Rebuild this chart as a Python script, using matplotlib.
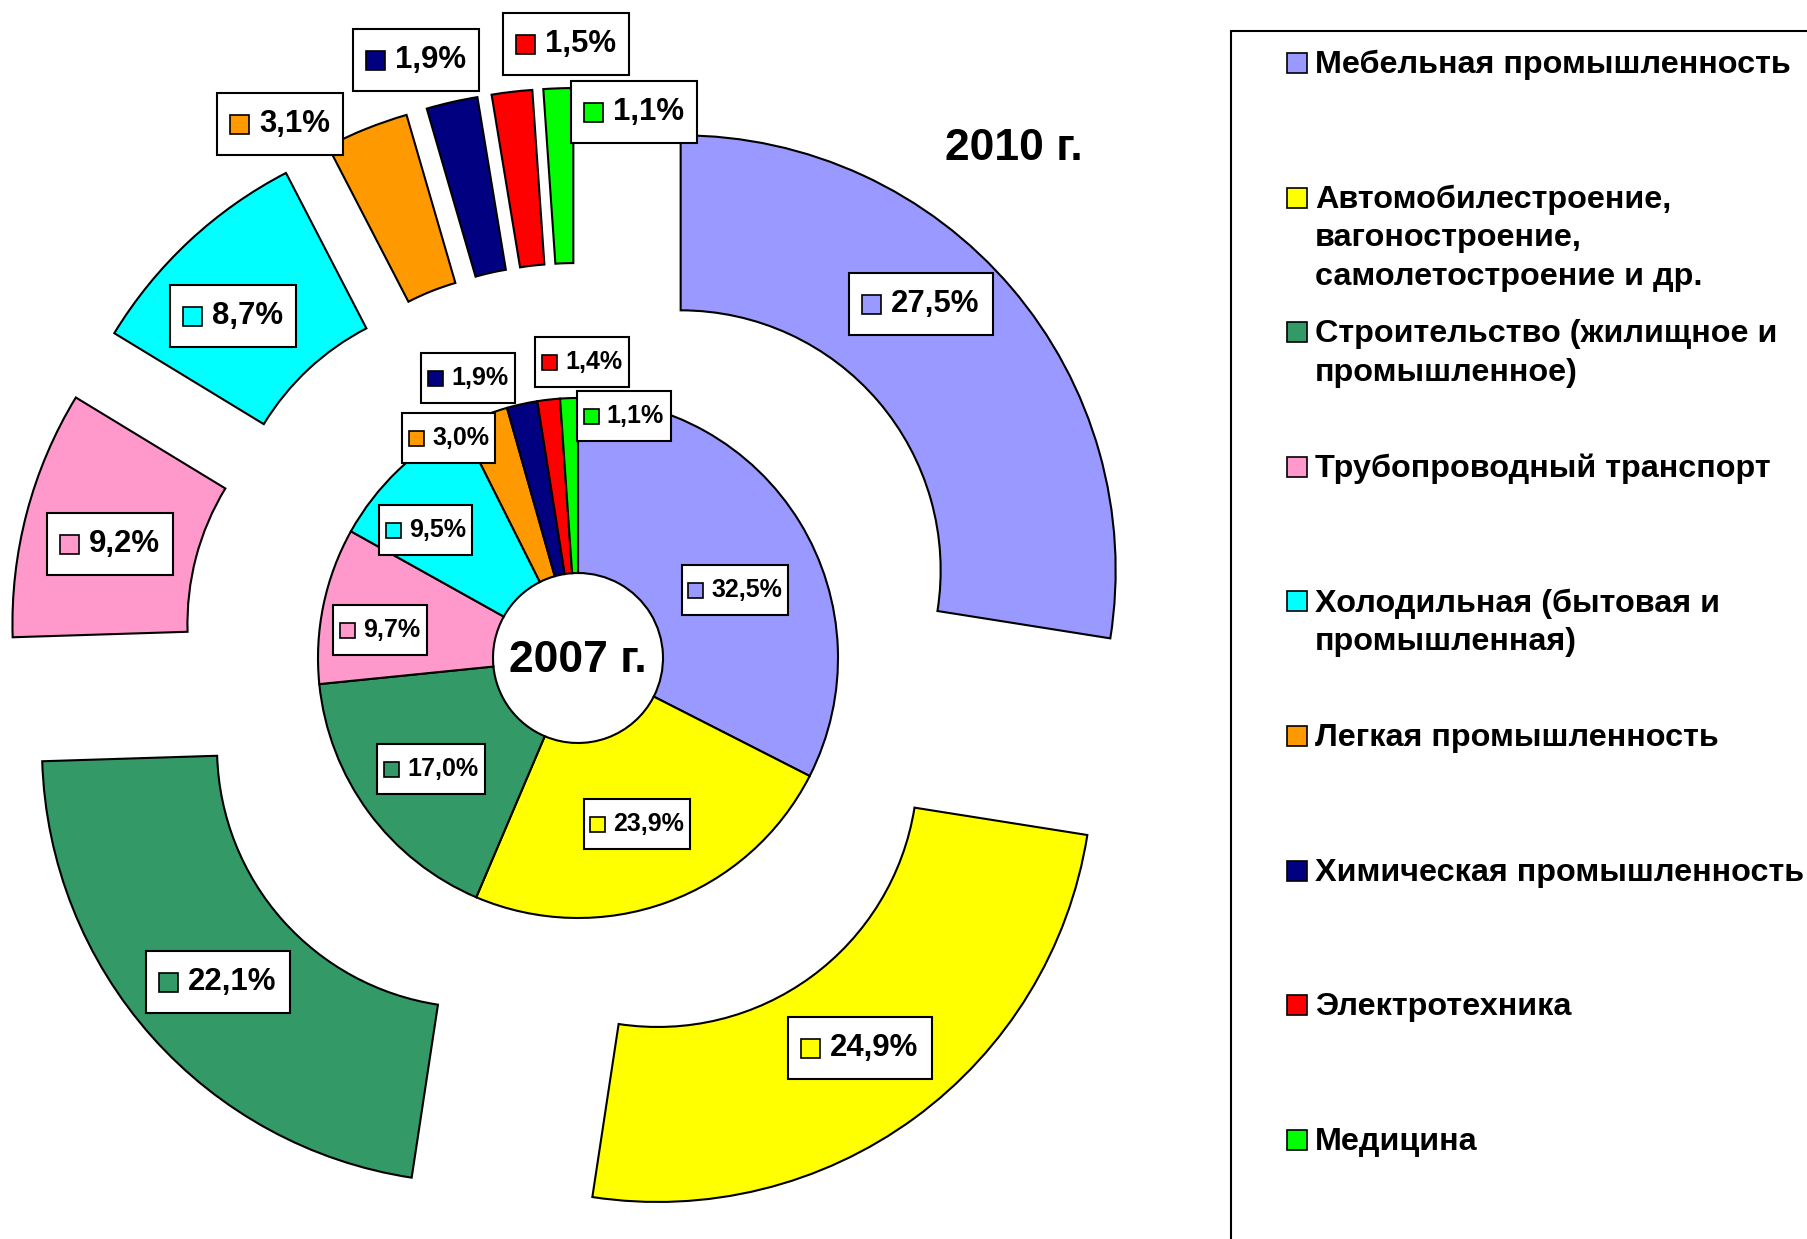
import matplotlib
matplotlib.use("Agg")
import matplotlib.pyplot as plt
from matplotlib.patches import Rectangle
from matplotlib.offsetbox import AnnotationBbox, HPacker, TextArea, DrawingArea

plt.rcParams['font.family'] = ['Liberation Sans', 'DejaVu Sans']

# ---------------- data ----------------
categories = [
    "Мебельная промышленность",
    "Автомобилестроение,\nвагоностроение,\nсамолетостроение и др.",
    "Строительство (жилищное и\nпромышленное)",
    "Трубопроводный транспорт",
    "Холодильная (бытовая и\nпромышленная)",
    "Легкая промышленность",
    "Химическая промышленность",
    "Электротехника",
    "Медицина",
]
values_2007 = [32.5, 23.9, 17.0, 9.7, 9.5, 3.0, 1.9, 1.4, 1.1]
values_2010 = [27.5, 24.9, 22.1, 9.2, 8.7, 3.1, 1.9, 1.5, 1.1]
colors = ["#9999FF", "#FFFF00", "#339966", "#FF99CC", "#00FFFF",
          "#FF9900", "#000080", "#FF0000", "#00FF00"]
title_outer = "2010 г."
title_inner = "2007 г."

# ---------------- layout (pixels, from top-left) ----------------
W, H = 1807, 1239
DPI = 100
PX2PT = 72.0 / DPI
CX, CY = 578, 658
R_OUT, R_MID, R_HOLE = 435, 260, 85
EXPLODE = 135

lab_outer_pos = [(921, 304), (860, 1048), (218, 982), (110, 544), (233, 316),
                 (280, 124), (416, 60), (566, 44), (634, 112)]
lab_inner_pos = [(735, 590), (637, 824), (431, 769), (380, 630), (426, 530),
                 (449, 438), (468, 378), (582, 362), (624, 416)]


def py(y):
    return H - y


fig = plt.figure(figsize=(W / DPI, H / DPI), dpi=DPI)
ax = fig.add_axes([0, 0, 1, 1])

edge = dict(edgecolor="black", linewidth=1.5)
ax.pie(values_2010, radius=R_OUT, center=(CX, py(CY)),
       explode=[EXPLODE] * len(values_2010), startangle=90,
       counterclock=False, colors=colors,
       wedgeprops=dict(width=R_OUT - R_MID, **edge))
ax.pie(values_2007, radius=R_MID, center=(CX, py(CY)), startangle=90,
       counterclock=False, colors=colors,
       wedgeprops=dict(width=R_MID - R_HOLE, **edge))

ax.set_xlim(0, W)
ax.set_ylim(0, H)
ax.set_aspect("equal")
ax.axis("off")


def fmt(v):
    return f"{v:.1f}".replace(".", ",") + "%"


def add_label(text, color, pos, fs, sq, gap, pad, inner_h):
    da = DrawingArea(sq * PX2PT, inner_h * PX2PT, 0, 0)
    da.add_artist(Rectangle((0, (inner_h - sq) / 2 * PX2PT), sq * PX2PT, sq * PX2PT,
                            facecolor=color, edgecolor="black", linewidth=1.2))
    ta = TextArea(text, textprops=dict(fontsize=fs, fontweight="bold", color="black"))
    pack = HPacker(children=[da, ta], align="center", pad=pad * PX2PT, sep=gap * PX2PT)
    ab = AnnotationBbox(pack, (pos[0], py(pos[1])), xycoords="data", frameon=True,
                        pad=0, box_alignment=(0.5, 0.5),
                        bboxprops=dict(boxstyle="square,pad=0", facecolor="white",
                                       edgecolor="black", linewidth=1.5))
    ax.add_artist(ab)


for v, c, p in zip(values_2010, colors, lab_outer_pos):
    add_label(fmt(v), c, p, 22.4, 19, 10, 13, 36)
for v, c, p in zip(values_2007, colors, lab_inner_pos):
    add_label(fmt(v), c, p, 18, 15, 8, 6.5, 37)

ax.text(1014, py(148), title_outer, fontsize=32, fontweight="bold",
        ha="center", va="center")
ax.text(CX, py(CY + 3), title_inner, fontsize=32, fontweight="bold",
        ha="center", va="center")

# ---------------- legend ----------------
LEG_X, LEG_TOP = 1231, 31
ax.add_patch(Rectangle((LEG_X, -60), 800, py(LEG_TOP) + 60, fill=False,
                       edgecolor="black", linewidth=1.5))
LEG_Y0, LEG_STEP, LINE_STEP = 65, 134.6, 38.5
MK_X, MK_SZ, TXT_X = 1297, 20, 1315
for i, (lab, c) in enumerate(zip(categories, colors)):
    y0 = LEG_Y0 + i * LEG_STEP
    ax.add_patch(Rectangle((MK_X - MK_SZ / 2, py(y0 - 2) - MK_SZ / 2), MK_SZ, MK_SZ,
                           facecolor=c, edgecolor="black", linewidth=1.2))
    for k, line in enumerate(lab.split("\n")):
        ax.text(TXT_X, py(y0 + k * LINE_STEP), line, fontsize=23.3, fontweight="bold",
                ha="left", va="center")

fig.savefig("out.png", dpi=DPI)
